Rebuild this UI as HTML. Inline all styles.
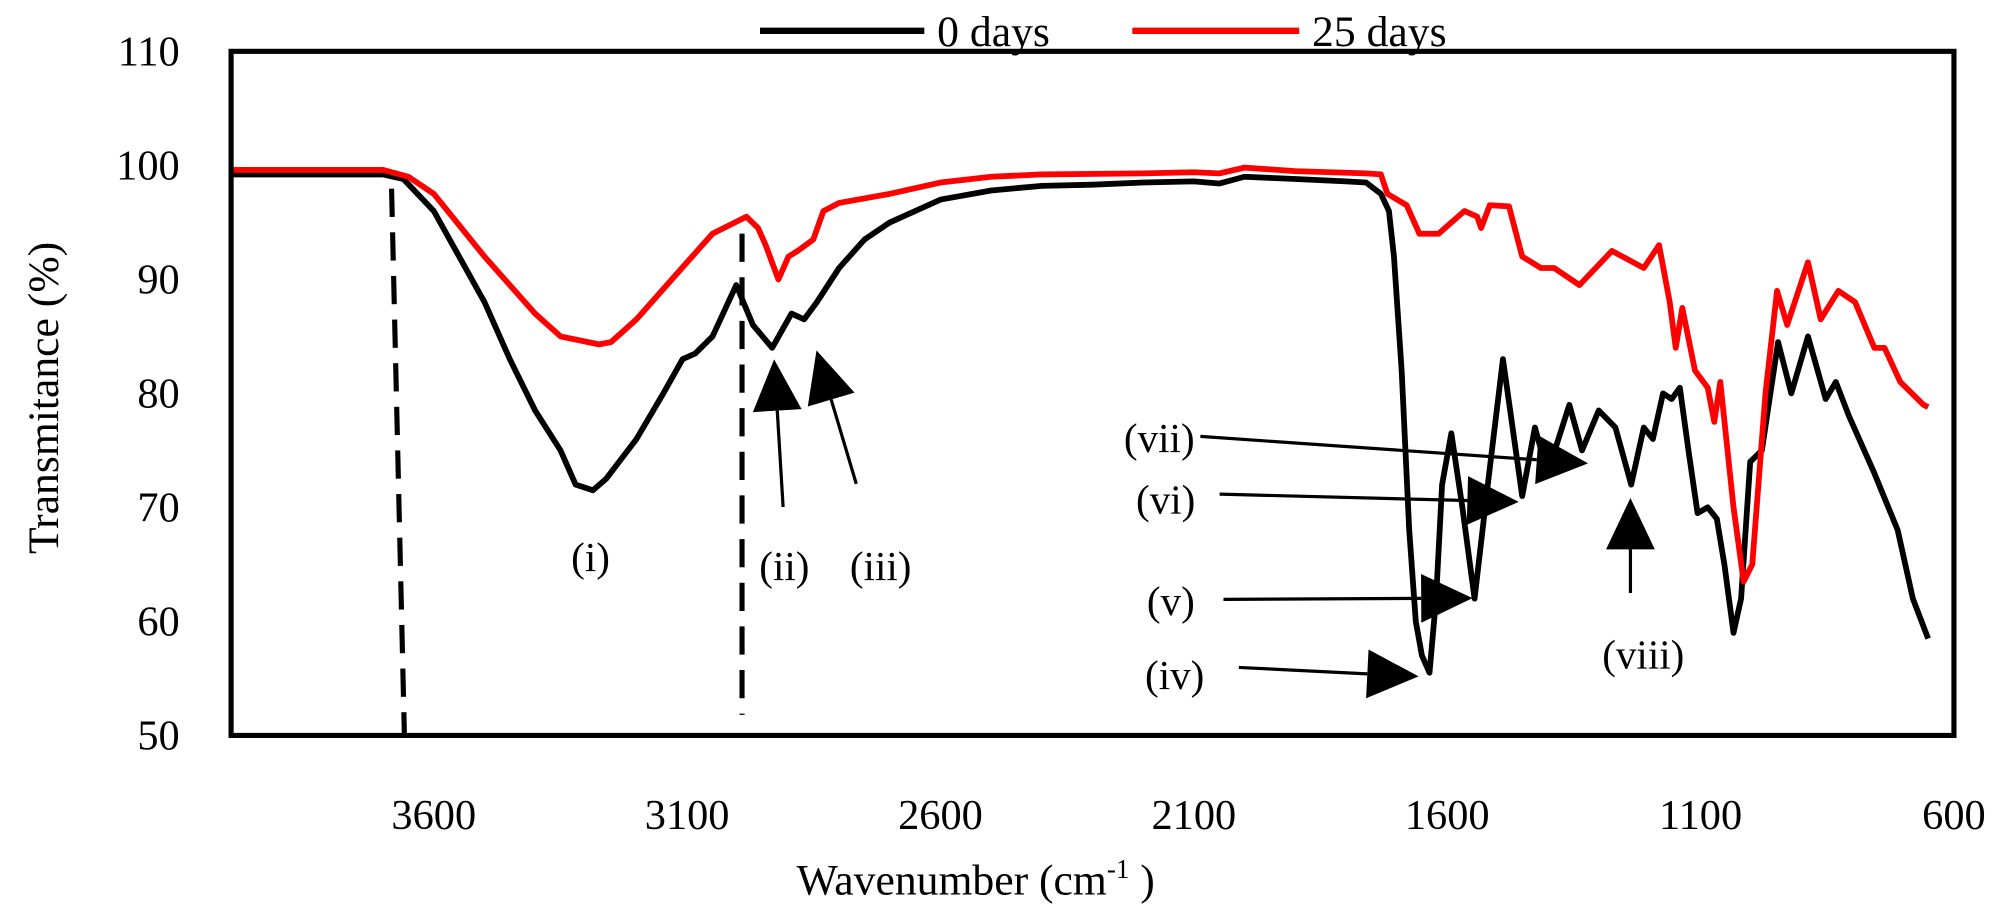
<!DOCTYPE html>
<html><head><meta charset="utf-8"><style>
html,body{margin:0;padding:0;background:#fff;}
svg{display:block;font-family:"Liberation Serif",serif;}
</style></head><body>
<svg id="chart" width="2013" height="910" viewBox="0 0 1568 709" preserveAspectRatio="none" xmlns="http://www.w3.org/2000/svg">
<defs>
<clipPath id="clip"><rect x="180" y="40" width="1342" height="533"/></clipPath>
</defs>
<g id="grid"></g>
</svg>
<script>
const xTicks = [3600, 3100, 2600, 2100, 1600, 1100, 600];
const yTicks = [50, 60, 70, 80, 90, 100, 110];
const wave0 = [4000,3700,3660,3600,3500,3450,3400,3350,3320,3286,3260,3200,3147,3109,3084,3050,3003,2970,2932,2894,2869,2844,2800,2750,2700,2650,2600,2500,2400,2300,2200,2100,2050,2000,1900,1800,1760,1731,1715,1705,1690,1675,1662,1650,1635,1622,1610,1592,1570,1546,1520,1490,1452,1427,1402,1359,1334,1301,1268,1237,1212,1194,1174,1157,1141,1124,1106,1086,1068,1053,1035,1020,1002,979,947,921,888,853,833,807,757,711,681,651];
const trans0 = [99.2,99.2,98.8,96,88,83,78.5,75,72,71.5,72.5,76,80,83,83.5,85,89.5,86,84,87,86.5,88,91,93.5,95,96,97,97.8,98.2,98.3,98.5,98.6,98.4,99,98.8,98.6,98.5,97.5,96,92,82,68,60,57,55.5,62,72,76.5,70,62,72,83,71,77,73,79,75,78.5,77,72,77,76,80,79.5,80.5,75,69.5,70,69,65,59,62,74,75,84.5,80,85,79.5,81,78,73,68,62,58.5];
const wave25 = [4000,3700,3650,3600,3500,3400,3350,3274,3250,3200,3100,3050,2983,2960,2945,2920,2900,2882,2851,2831,2800,2700,2600,2500,2400,2200,2100,2050,2000,1900,1760,1731,1718,1680,1655,1617,1566,1541,1533,1516,1478,1452,1415,1389,1339,1275,1212,1182,1161,1149,1136,1111,1086,1073,1061,1035,1015,998,972,949,929,888,863,828,795,757,737,706,660,651];
const trans25 = [99.6,99.6,99,97.5,92,87,85,84.3,84.5,86.5,91.5,94,95.5,94.5,93,90,92,92.5,93.5,96,96.7,97.5,98.5,99,99.2,99.3,99.4,99.3,99.8,99.5,99.3,99.2,97.5,96.5,94,94,96,95.5,94.5,96.5,96.4,92,91,91,89.5,92.5,91,93,88,84,87.5,82,80.5,77.5,81,70,63.5,65,80,89,86,91.5,86.5,89,88,84,84,81,79,78.8];

const NS = "http://www.w3.org/2000/svg";
const svg = document.getElementById('chart');
const L=180,R=1522,T=40,B=573;
const xMin=4000,xMax=600,yMin=50,yMax=110;
function xs(w){return L+(xMin-w)/(xMin-xMax)*(R-L);}
function ys(v){return B-(v-yMin)/(yMax-yMin)*(B-T);}
function el(tag,attrs,parent){const e=document.createElementNS(NS,tag);for(const k in attrs)e.setAttribute(k,attrs[k]);(parent||svg).appendChild(e);return e;}

yTicks.forEach(v=>{
  const t=el('text',{x:140,y:ys(v)+11,'text-anchor':'end','font-size':33});
  t.textContent=v;
  
  
});
xTicks.forEach(v=>{
  const t=el('text',{x:xs(v),y:646,'text-anchor':'middle','font-size':33});
  t.textContent=v;
  
  
});

function line(ws,vs,color,name){
  const d=ws.map((w,i)=>(i?'L':'M')+xs(w).toFixed(1)+' '+ys(vs[i]).toFixed(1)).join(' ');
  const p=el('path',{d:d,fill:'none',stroke:color,'stroke-width':4.5,'stroke-linejoin':'round','clip-path':'url(#clip)'});
  
  
}
line(wave0,trans0,'#000','series-0-days');
line(wave25,trans25,'#ff0000','series-25-days');

const fr=el('rect',{x:L,y:T,width:R-L,height:B-T,fill:'none',stroke:'#000','stroke-width':4});



const d1=el('line',{x1:305,y1:147,x2:315,y2:573,stroke:'#000','stroke-width':4,'stroke-dasharray':'22,12'});


const d2=el('line',{x1:578,y1:182,x2:578,y2:557,stroke:'#000','stroke-width':4,'stroke-dasharray':'22,12'});



function arrow(x1,y1,x2,y2,name){
  const dx=x2-x1,dy=y2-y1,len=Math.hypot(dx,dy),ux=dx/len,uy=dy/len;
  const hl=40,hw=19;
  const bx=x2-ux*hl,by=y2-uy*hl;
  const g=el('g',{});
  
  
  el('line',{x1:x1,y1:y1,x2:bx,y2:by,stroke:'#000','stroke-width':2.5},g);
  el('polygon',{points:`${x2},${y2} ${bx-uy*hw},${by+ux*hw} ${bx+uy*hw},${by-ux*hw}`,fill:'#000'},g);
}
arrow(610,395,603,280,'arrow-ii');
arrow(667,377,636,273,'arrow-iii');
arrow(965,520,1105,527,'arrow-iv');
arrow(953,467,1147,466,'arrow-v');
arrow(950,385,1183,391,'arrow-vi');
arrow(935,340,1237,361,'arrow-vii');
arrow(1270,462,1270,388,'arrow-viii');

[['(i)',460,445],['(ii)',611,452],['(iii)',686,452],['(iv)',915,537],['(v)',912,479],['(vi)',908,400],['(vii)',903,352],['(viii)',1280,521]].forEach(a=>{
  const t=el('text',{x:a[1],y:a[2],'text-anchor':'middle','font-size':32});
  t.textContent=a[0];
  
  
});

const xt=el('text',{x:760,y:697,'text-anchor':'middle','font-size':34});
xt.innerHTML='Wavenumber (cm<tspan dy="-13" font-size="21">-1</tspan><tspan dy="13"> )</tspan>';


const yt=el('text',{x:0,y:0,'text-anchor':'middle','font-size':34,transform:'translate(45,310) rotate(-90)'});
yt.textContent='Transmitance (%)';



const lg=el('g',{});


el('line',{x1:592,y1:24,x2:720,y2:24,stroke:'#000','stroke-width':5},lg);
const l1=el('text',{x:730,y:36,'font-size':34},lg);l1.textContent='0 days';


el('line',{x1:882,y1:24,x2:1012,y2:24,stroke:'#ff0000','stroke-width':5},lg);
const l2=el('text',{x:1022,y:36,'font-size':34},lg);l2.textContent='25 days';


</script>
</body></html>
